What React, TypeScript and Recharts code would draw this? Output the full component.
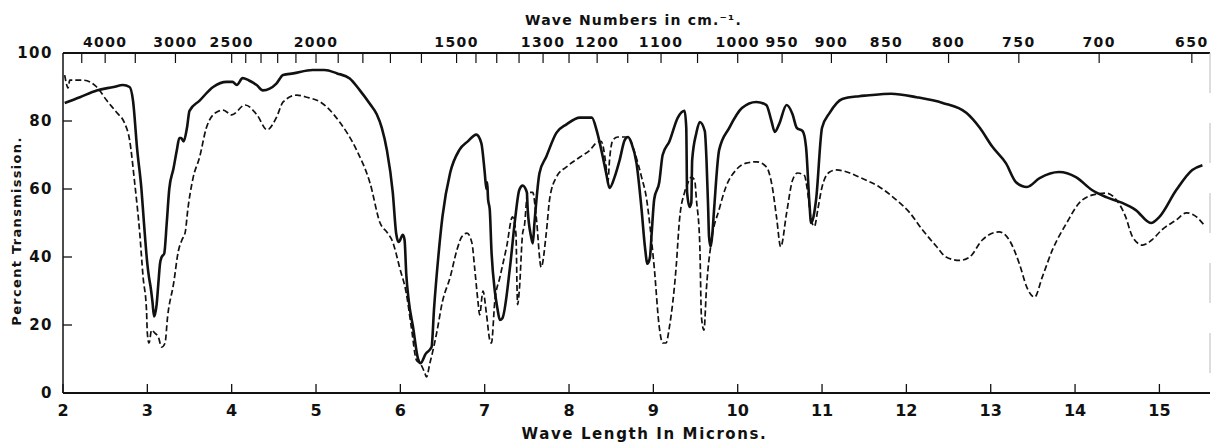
import { LineChart, Line, XAxis, YAxis, Label } from "recharts";

const FONT = "'DejaVu Sans', Verdana, sans-serif";

// bottom axis, microns
const micronTicks = [2, 3, 4, 5, 6, 7, 8, 9, 10, 11, 12, 13, 14, 15];
// top axis, wave numbers (cm-1)
const waveNumberTicks = [
  4500, 4000, 3500, 3000, 2500, 2400, 2300, 2200, 2100, 2000, 1900, 1800, 1700, 1600, 1500, 1450, 1400,
  1350, 1300, 1250, 1200, 1150, 1100, 1050, 1000, 950, 900, 850, 800, 750, 700, 650,
];
const waveNumberLabels = [4000, 3000, 2500, 2000, 1500, 1300, 1200, 1100, 1000, 950, 900, 850, 800, 750, 700, 650];
const transmissionTicks = [0, 20, 40, 60, 80, 100];

// solid trace
const solidWave = [
  2.02, 2.2, 2.4, 2.6, 2.71, 2.79, 2.83, 2.88, 2.93, 2.96, 3.0, 3.02, 3.04, 3.06, 3.08, 3.11, 3.13, 3.15, 3.17,
  3.2, 3.23, 3.26, 3.31, 3.35, 3.38, 3.4, 3.43, 3.47, 3.5, 3.62, 3.78, 3.94, 4.01, 4.06, 4.13, 4.2, 4.3, 4.37,
  4.45, 4.53, 4.61, 4.73, 4.96, 5.1, 5.25, 5.4, 5.52, 5.64, 5.72, 5.78, 5.84, 5.91, 5.95, 5.98, 6.03, 6.05,
  6.07, 6.1, 6.15, 6.21, 6.24, 6.3, 6.37, 6.4, 6.45, 6.5, 6.59, 6.7, 6.8, 6.9, 6.96, 7.0, 7.02, 7.03, 7.04,
  7.06, 7.08, 7.12, 7.15, 7.18, 7.21, 7.3, 7.36, 7.41, 7.45, 7.5, 7.51, 7.55, 7.57, 7.59, 7.65, 7.73, 7.85,
  7.97, 8.13, 8.27, 8.33, 8.36, 8.4, 8.44, 8.48, 8.54, 8.6, 8.66, 8.7, 8.74, 8.8, 8.86, 8.9, 8.93, 8.96, 8.98,
  9.01, 9.07, 9.11, 9.19, 9.29, 9.37, 9.39, 9.4, 9.43, 9.45, 9.46, 9.51, 9.55, 9.61, 9.63, 9.65, 9.66, 9.68,
  9.7, 9.72, 9.78, 9.9, 10.05, 10.22, 10.34, 10.4, 10.44, 10.49, 10.58, 10.65, 10.7, 10.77, 10.81, 10.85,
  10.87, 10.9, 10.93, 11.0, 11.09, 11.24, 11.44, 11.53, 11.82, 12.12, 12.43, 12.71, 12.87, 13.02, 13.18, 13.3,
  13.43, 13.58, 13.81, 14.01, 14.2, 14.37, 14.56, 14.72, 14.9, 15.0, 15.2, 15.39, 15.51,
];
const solidPct = [
  85.3, 87, 89, 90, 90.6, 90, 86, 71.5, 60, 50, 38, 34, 31, 27, 22.5, 26, 32, 38, 40, 41, 50, 60, 66, 71.5, 75,
  75, 74, 78, 83, 86, 90, 91.5, 91.5, 90.6, 92.6, 92, 90.5, 89, 89.5, 91, 93.5, 94, 95, 95, 94, 92.5, 89, 85,
  82, 78, 71.5, 59, 47, 44.4, 46.5, 45, 35, 27, 19.5, 10, 8.8, 11.5, 13.5, 25, 40, 52, 64.7, 71.5, 74, 76, 73.5,
  65, 60, 62, 57, 54, 42, 30, 25, 21.5, 22, 37, 51, 59.7, 61, 59, 54, 46, 44, 50, 64.7, 69.5, 76.5, 79, 81, 81,
  77, 74, 69.5, 64.7, 60.3, 63.5, 68.5, 74.4, 75.3, 73.5, 67.6, 54, 43, 38, 40, 47, 57, 62, 70, 74, 81, 83, 78,
  59, 54.7, 56, 68.5, 76.5, 79.7, 77, 68.5, 54, 46, 43, 47, 54, 71.5, 78, 83.8, 85.6, 84.7, 80, 76.8, 79, 84.7,
  82, 78, 77, 72.4, 56, 50, 52, 57, 78, 82.4, 86.5, 87.3, 87.5, 88, 87, 85.3, 82.4, 78, 72.4, 67.6, 62, 60.6,
  63.2, 65, 63.5, 59.7, 57.6, 55.9, 53.8, 50, 51.8, 59.7, 65.6, 67,
];

// dashed trace
const dashedWave = [
  2.02, 2.04, 2.06, 2.08, 2.24, 2.4, 2.52, 2.64, 2.73, 2.79, 2.85, 2.91, 2.95, 2.99, 3.0, 3.02, 3.05, 3.09,
  3.13, 3.17, 3.21, 3.24, 3.31, 3.37, 3.41, 3.45, 3.48, 3.54, 3.62, 3.7, 3.82, 3.9, 4.0, 4.16, 4.3, 4.42, 4.53,
  4.61, 4.77, 4.89, 5.05, 5.28, 5.48, 5.64, 5.76, 5.85, 5.91, 5.95, 5.99, 6.07, 6.13, 6.19, 6.24, 6.29, 6.31,
  6.35, 6.38, 6.43, 6.5, 6.59, 6.67, 6.73, 6.79, 6.85, 6.88, 6.92, 6.94, 6.98, 7.02, 7.06, 7.08, 7.12, 7.18,
  7.26, 7.33, 7.37, 7.39, 7.41, 7.45, 7.47, 7.51, 7.57, 7.61, 7.67, 7.73, 7.77, 7.85, 7.97, 8.13, 8.25, 8.32,
  8.38, 8.44, 8.46, 8.48, 8.52, 8.58, 8.7, 8.78, 8.86, 8.92, 8.96, 9.01, 9.07, 9.11, 9.15, 9.19, 9.27, 9.31,
  9.37, 9.41, 9.45, 9.49, 9.51, 9.55, 9.57, 9.6, 9.63, 9.69, 9.78, 9.86, 9.98, 10.1, 10.22, 10.34, 10.41, 10.46,
  10.51, 10.58, 10.65, 10.71, 10.79, 10.83, 10.87, 10.91, 10.95, 11.0, 11.09, 11.17, 11.33, 11.44, 11.68, 11.88,
  12.04, 12.19, 12.36, 12.47, 12.63, 12.75, 12.9, 13.1, 13.22, 13.34, 13.43, 13.52, 13.61, 13.73, 13.9, 14.05,
  14.2, 14.37, 14.49, 14.6, 14.68, 14.8, 14.91, 15.03, 15.2, 15.32, 15.44, 15.53,
];
const dashedPct = [
  93.5, 91, 89.7, 92, 92, 90, 86, 82.4, 79.4, 74.4, 61.8, 47, 34, 24.4, 17.6, 14.7, 18.5, 17.6, 16.5, 13.5, 14.7,
  22.4, 32, 42, 45, 47.4, 54, 63, 69.4, 78, 82.6, 83.2, 81.8, 84.7, 81.8, 77.4, 81, 85.6, 87.6, 87, 85.6, 79.7,
  71.5, 61.8, 50, 47, 44.4, 41, 37, 29.4, 19.4, 9.7, 8.5, 5.9, 4.7, 8.8, 11.8, 17.6, 27, 34, 42, 46, 47, 44, 37,
  27, 23, 30, 23.5, 15.6, 14.7, 27, 34, 43, 51.8, 47, 26, 30, 47, 49, 59, 59, 52, 37, 47, 57, 63.5, 66.5, 69.4,
  71.5, 73.5, 74, 66.5, 61.8, 68.5, 74.4, 75.3, 75.3, 70.6, 63.5, 57, 49, 37, 19.4, 14.7, 14.7, 19.4, 37, 51,
  59, 61.8, 63.5, 62.6, 57, 44, 22.4, 18.5, 31, 45, 54, 60.6, 65.6, 67.6, 68, 66.5, 60.6, 51.8, 43, 53, 62.6,
  64.7, 64, 59, 51, 49, 54, 60.6, 65, 65.6, 64.7, 63.5, 60.6, 56.8, 53, 48, 43, 40, 39, 40, 45, 47.4, 45, 38, 31,
  28.2, 34, 42, 50, 55.9, 58.2, 58.8, 56.8, 51.8, 46, 43.5, 45, 48, 50.9, 53, 51.8, 49.4,
];

const solidData = solidWave.map((x, i) => ({ x, y: solidPct[i] }));
const dashedData = dashedWave.map((x, i) => ({ x, y: dashedPct[i] }));
const topTicks = waveNumberTicks.map((n) => 10000 / n);

const BottomTick = (props: any) => {
  const { x, y, payload } = props;
  return (
    <g>
      <line x1={x} y1={y} x2={x} y2={y - 9} stroke="#111" strokeWidth={1.3} />
      <text x={x} y={y + 18} textAnchor="middle" dominantBaseline="middle" fontFamily={FONT} fontWeight="bold"
        fontSize={16} fill="#111">
        {payload.value}
      </text>
    </g>
  );
};

const TopTick = (props: any) => {
  const { x, y, payload } = props;
  const n = Math.round(10000 / payload.value);
  return (
    <g>
      <line x1={x} y1={y} x2={x} y2={y + 10} stroke="#111" strokeWidth={1.2} />
      {waveNumberLabels.includes(n) && (
        <text x={x} y={y - 10} textAnchor="middle" dominantBaseline="middle" fontFamily={FONT} fontWeight="bold"
          fontSize={14} letterSpacing={1.4} fill="#111">
          {n}
        </text>
      )}
    </g>
  );
};

const LeftTick = (props: any) => {
  const { x, y, payload } = props;
  return (
    <g>
      <line x1={x} y1={y} x2={x + 9} y2={y} stroke="#111" strokeWidth={1.3} />
      <text x={x - 10} y={y} textAnchor="end" dominantBaseline="middle" fontFamily={FONT} fontWeight="bold"
        fontSize={15} letterSpacing={1.5} fill="#111">
        {payload.value}
      </text>
    </g>
  );
};

export default function App() {
  return (
    <div style={{ position: "absolute", left: 0, top: 0, background: "#fff" }}>
      <LineChart width={1211} height={442} margin={{ top: 0, right: 0, bottom: 0, left: 0 }}>
        <XAxis xAxisId="bottom" type="number" dataKey="x" domain={[2, 15.6]} ticks={micronTicks}
          allowDataOverflow orientation="bottom" height={49} tickSize={0} tickMargin={0} tick={<BottomTick />}
          axisLine={{ stroke: "#111", strokeWidth: 2 }} interval={0}>
          <Label content={(p: any) => (
            <text x={p.viewBox.x + p.viewBox.width / 2 + 8} y={p.viewBox.y + 41} textAnchor="middle"
              dominantBaseline="middle" fontFamily={FONT} fontWeight="bold" fontSize={15} letterSpacing={1.6}
              fill="#111">
              Wave Length In Microns.
            </text>
          )} />
        </XAxis>
        <XAxis xAxisId="top" type="number" dataKey="x" domain={[2, 15.6]} ticks={topTicks} allowDataOverflow
          orientation="top" height={53} tickSize={0} tickMargin={0} tick={<TopTick />} interval={0}
          axisLine={{ stroke: "#111", strokeWidth: 2 }}>
          <Label content={(p: any) => (
            <text x={p.viewBox.x + p.viewBox.width / 2 - 3} y={p.viewBox.y + 21} textAnchor="middle"
              dominantBaseline="middle" fontFamily={FONT} fontWeight="bold" fontSize={14} letterSpacing={1.2}
              fill="#111">
              Wave Numbers in cm.⁻¹.
            </text>
          )} />
        </XAxis>
        <YAxis yAxisId="left" type="number" domain={[0, 100]} ticks={transmissionTicks} width={63}
          tickSize={0} tickMargin={0} tick={<LeftTick />} interval={0}
          axisLine={{ stroke: "#111", strokeWidth: 1.5 }}>
          <Label content={(p: any) => (
            <text x={17} y={p.viewBox.y + p.viewBox.height / 2 + 8} textAnchor="middle" dominantBaseline="middle"
              fontFamily={FONT} fontWeight="bold" fontSize={13} letterSpacing={1.3} fill="#111"
              transform={`rotate(-90 17 ${p.viewBox.y + p.viewBox.height / 2 + 8})`}>
              Percent Transmission.
            </text>
          )} />
        </YAxis>
        <YAxis yAxisId="right" orientation="right" type="number" domain={[0, 100]} width={1} tick={false}
          tickLine={false} axisLine={{ stroke: "#bbb", strokeWidth: 1, strokeDasharray: "40 30" }} />
        <Line data={solidData} xAxisId="bottom" yAxisId="left" dataKey="y" type="monotone" stroke="#111"
          strokeWidth={2.6} dot={false} isAnimationActive={false} />
        <Line data={dashedData} xAxisId="bottom" yAxisId="left" dataKey="y" type="monotone" stroke="#111"
          strokeWidth={1.7} strokeDasharray="6 3" dot={false} isAnimationActive={false} />
      </LineChart>
    </div>
  );
}
